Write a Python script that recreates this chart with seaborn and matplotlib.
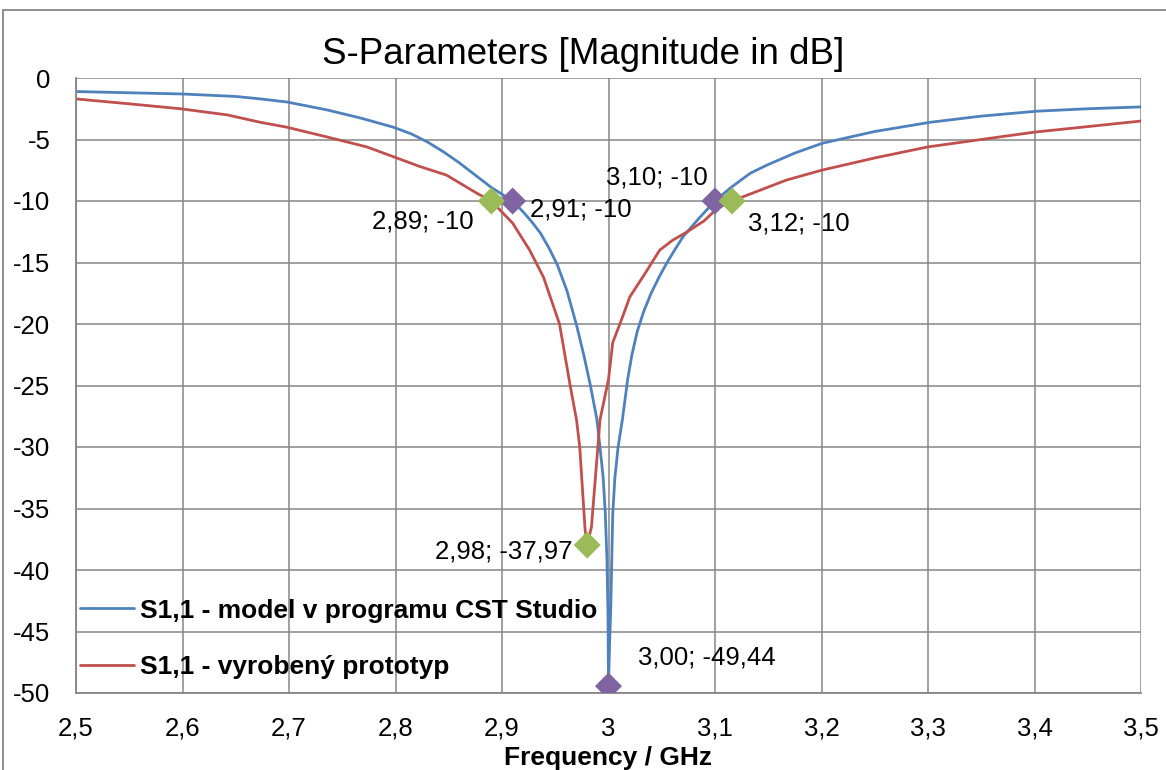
import matplotlib
matplotlib.use("Agg")
import matplotlib.pyplot as plt
from matplotlib.ticker import FuncFormatter, MultipleLocator
from matplotlib.lines import Line2D
import seaborn as sns
import pandas as pd

# S1,1 of the CST model
model_freq = [2.50, 2.55, 2.60, 2.65, 2.673, 2.698, 2.736, 2.767, 2.798, 2.815,
              2.83, 2.845, 2.86, 2.875, 2.89, 2.90, 2.91, 2.92, 2.928, 2.936,
              2.944, 2.952, 2.961, 2.970, 2.977, 2.983, 2.989, 2.992, 2.995, 2.997,
              2.9985, 2.9995, 3.00, 3.001, 3.002, 3.004, 3.006, 3.009, 3.013, 3.018,
              3.022, 3.027, 3.033, 3.040, 3.048, 3.055, 3.062, 3.070, 3.085, 3.10,
              3.115, 3.133, 3.149, 3.175, 3.201, 3.25, 3.302, 3.35, 3.402, 3.45, 3.50]
model_db = [-1.1, -1.2, -1.3, -1.5, -1.7, -1.95, -2.6, -3.25, -4.0, -4.55,
            -5.2, -6.0, -6.9, -7.9, -8.9, -9.45, -10.0, -10.9, -11.7, -12.6,
            -13.8, -15.2, -17.3, -20.1, -22.6, -25.0, -27.7, -30.0, -32.5, -35.4,
            -39.0, -43.5, -49.44, -46.0, -43.5, -35.4, -32.5, -30.0, -27.8, -24.5,
            -22.5, -20.6, -19.0, -17.5, -16.1, -15.0, -14.0, -12.9, -11.4, -10.0,
            -8.9, -7.75, -7.07, -6.1, -5.3, -4.35, -3.6, -3.1, -2.7, -2.5, -2.35]

# S1,1 measured on the prototype
proto_freq = [2.50, 2.55, 2.598, 2.642, 2.673, 2.698, 2.736, 2.773, 2.798, 2.823,
              2.848, 2.876, 2.89, 2.91, 2.926, 2.939, 2.954, 2.964, 2.970, 2.973,
              2.978, 2.98, 2.984, 2.99, 2.992, 3.00, 3.004, 3.012, 3.02, 3.035,
              3.048, 3.06, 3.074, 3.09, 3.102, 3.116, 3.149, 3.167, 3.20, 3.25,
              3.30, 3.35, 3.40, 3.45, 3.50]
proto_db = [-1.7, -2.1, -2.5, -3.0, -3.6, -4.0, -4.8, -5.6, -6.4, -7.2,
            -7.9, -9.35, -10.0, -11.8, -14.0, -16.2, -20.0, -25.0, -27.8, -30.0,
            -36.7, -37.97, -36.5, -30.0, -27.8, -24.5, -21.5, -19.7, -17.8, -15.8,
            -14.0, -13.2, -12.5, -11.6, -10.6, -10.0, -8.9, -8.3, -7.5, -6.5,
            -5.6, -5.0, -4.4, -3.95, -3.5]

series_names = ["S1,1 - model v programu CST Studio", "S1,1 - vyrobený prototyp"]

# marked points
model_mark_freq = [2.91, 3.10, 3.00]
model_mark_db = [-10, -10, -49.44]
model_mark_text = ["2,91; -10", "3,10; -10", "3,00; -49,44"]
proto_mark_freq = [2.89, 3.116, 2.98]
proto_mark_db = [-10, -10, -37.97]
proto_mark_text = ["2,89; -10", "3,12; -10", "2,98; -37,97"]

BLUE = "#4F81BD"
RED = "#C0504D"
PURPLE = "#8064A2"
GREEN = "#9BBB59"
GRID = "#868686"

sns.set_style("white")
plt.rcParams["font.family"] = ["Liberation Sans", "DejaVu Sans"]
plt.rcParams["text.color"] = "black"

df = pd.concat([
    pd.DataFrame({"freq": model_freq, "db": model_db, "series": series_names[0]}),
    pd.DataFrame({"freq": proto_freq, "db": proto_db, "series": series_names[1]}),
])

fig = plt.figure(figsize=(11.66, 7.7), dpi=100)
ax = fig.add_axes([76 / 1166, 1 - 693 / 770, (1141 - 76) / 1166, (693 - 78) / 770])

sns.lineplot(data=df, x="freq", y="db", hue="series", palette=[BLUE, RED],
             linewidth=2.0, ax=ax, legend=False, estimator=None, sort=False)

sns.scatterplot(x=model_mark_freq, y=model_mark_db, marker="D", s=190, color=PURPLE,
                edgecolor="none", ax=ax, zorder=5)
sns.scatterplot(x=proto_mark_freq, y=proto_mark_db, marker="D", s=190, color=GREEN,
                edgecolor="none", ax=ax, zorder=5)

# label offsets in pixels (dx, dy, ha)
model_offsets = [(17, -8, "left"), (-7, 24, "right"), (29, 29, "left")]
proto_offsets = [(-18, -21, "right"), (16, -22, "left"), (-15, -6, "right")]
for fx, fy, txt, (dx, dy, ha) in zip(model_mark_freq + proto_mark_freq,
                                     model_mark_db + proto_mark_db,
                                     model_mark_text + proto_mark_text,
                                     model_offsets + proto_offsets):
    ax.annotate(txt, (fx, fy), xytext=(dx, dy), textcoords="offset pixels",
                ha=ha, va="center", fontsize=18.5, color="black")

ax.set_xlim(2.5, 3.5)
ax.set_ylim(-50, 0)
ax.xaxis.set_major_locator(MultipleLocator(0.1))
ax.yaxis.set_major_locator(MultipleLocator(5))
fmt = FuncFormatter(lambda v, p: f"{round(v, 2):g}".replace(".", ","))
ax.xaxis.set_major_formatter(fmt)
ax.yaxis.set_major_formatter(fmt)
ax.tick_params(axis="both", labelsize=18.5, width=1.1, color=GRID,
               labelcolor="black", direction="out")
ax.tick_params(axis="y", length=8, pad=10.5)
ax.tick_params(axis="x", length=5, pad=12)

ax.grid(True, color=GRID, linewidth=1.1)
ax.set_axisbelow(True)
for side in ["top", "right"]:
    ax.spines[side].set_visible(False)
for side in ["left", "bottom"]:
    ax.spines[side].set_color(GRID)
    ax.spines[side].set_linewidth(1.3)

ax.set_xlabel("Frequency / GHz", fontsize=19, fontweight="bold", labelpad=4,
              color="black")
ax.set_ylabel("")
fig.suptitle("S-Parameters [Magnitude in dB]", fontsize=26.5, y=1 - 55 / 770,
             va="center", color="black")

handles = [Line2D([], [], color=BLUE, linewidth=2.0),
           Line2D([], [], color=RED, linewidth=2.0)]
leg = ax.legend(handles, series_names, loc="center left", frameon=False,
                bbox_to_anchor=(0.004, 0.0878), prop={"size": 19, "weight": "bold"},
                handlelength=2.05, handletextpad=0.2, labelspacing=1.25,
                borderpad=0, borderaxespad=0)

# outer chart border
fig.add_artist(Line2D([3 / 1166, 3 / 1166], [0, 1 - 10 / 770], color=GRID,
                      linewidth=1.3, transform=fig.transFigure))
fig.add_artist(Line2D([3 / 1166, 1], [1 - 10 / 770, 1 - 10 / 770], color=GRID,
                      linewidth=1.3, transform=fig.transFigure))

fig.savefig("out.png", dpi=100)
